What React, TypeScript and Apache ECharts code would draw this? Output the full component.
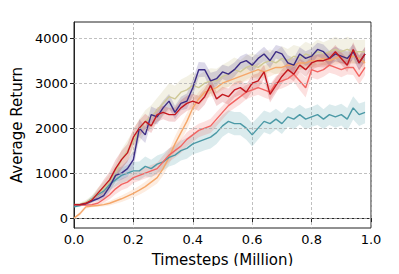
import React, { useEffect, useRef } from "react";
import * as echarts from "echarts";

const xs: number[] = Array.from({ length: 50 }, (_, i) => +(i * 0.02).toFixed(2));

const purple = [300, 300, 320, 380, 430, 500, 700, 950, 1000, 1100, 1300, 2000, 1850, 2300, 2250, 2450, 2600, 2350, 2550, 2600, 2900, 3300, 3300, 3050, 3100, 3250, 3200, 3300, 3450, 3500, 3400, 3550, 3650, 3500, 3700, 3650, 3450, 3400, 3650, 3550, 3600, 3750, 3700, 3550, 3650, 3600, 3550, 3700, 3450, 3650];
const khaki = [300, 310, 350, 420, 550, 650, 800, 1000, 1300, 1500, 1700, 1950, 2150, 2250, 2400, 2550, 2700, 2650, 2800, 2850, 2950, 2900, 3000, 3050, 3050, 3150, 3200, 3300, 3250, 3350, 3400, 3350, 3450, 3500, 3450, 3550, 3500, 3600, 3550, 3650, 3600, 3700, 3650, 3700, 3750, 3700, 3750, 3700, 3700, 3700];
const red = [300, 300, 330, 400, 550, 700, 850, 1100, 1300, 1450, 1800, 2000, 2150, 2050, 2300, 2350, 2300, 2300, 2450, 2550, 2600, 2550, 2700, 2950, 2650, 2750, 2700, 2850, 2900, 2800, 3000, 3050, 3250, 2750, 2950, 3150, 3300, 3200, 3400, 3300, 3450, 3500, 3500, 3550, 3700, 3550, 3400, 3750, 3450, 3650];
const salmon = [300, 290, 290, 300, 330, 420, 520, 650, 750, 800, 900, 950, 1000, 1050, 1100, 1250, 1400, 1500, 1600, 1750, 1850, 1950, 2000, 2050, 2200, 2350, 2500, 2600, 2700, 2800, 2850, 2900, 2850, 2800, 3000, 3050, 3100, 3200, 3050, 2900, 3300, 3250, 3300, 3400, 3350, 3300, 3350, 3350, 3150, 3350];
const orange = [0, 100, 250, 270, 280, 300, 330, 380, 430, 490, 550, 620, 700, 800, 900, 1100, 1350, 1650, 1900, 2150, 2450, 2650, 2800, 2850, 2900, 3000, 3050, 3100, 3150, 3200, 3250, 3300, 3250, 3300, 3350, 3350, 3400, 3400, 3450, 3450, 3500, 3500, 3550, 3500, 3550, 3600, 3550, 3600, 3550, 3450];
const teal = [250, 280, 330, 430, 520, 600, 750, 850, 950, 1000, 1050, 1050, 1150, 1100, 1200, 1250, 1350, 1400, 1500, 1550, 1650, 1700, 1750, 1800, 1900, 2050, 2150, 2100, 2100, 2000, 1850, 2000, 2150, 2100, 2200, 2100, 2250, 2200, 2300, 2200, 2250, 2300, 2200, 2300, 2250, 2300, 2200, 2450, 2300, 2350];

const purpleStd = [20, 20, 30, 40, 50, 80, 120, 150, 150, 180, 200, 200, 180, 180, 170, 160, 160, 150, 150, 170, 180, 170, 160, 180, 170, 160, 170, 160, 150, 160, 170, 150, 160, 170, 150, 160, 170, 160, 150, 160, 170, 150, 160, 170, 160, 150, 160, 170, 160, 150];
const khakiStd = [20, 30, 50, 80, 120, 150, 180, 200, 220, 230, 250, 260, 250, 260, 270, 280, 300, 290, 280, 300, 290, 280, 270, 280, 270, 260, 280, 270, 260, 270, 260, 270, 260, 250, 260, 270, 260, 250, 260, 270, 260, 270, 260, 270, 280, 270, 280, 270, 260, 270];
const redStd = [20, 20, 40, 60, 100, 150, 180, 200, 200, 200, 190, 180, 170, 160, 160, 150, 150, 160, 170, 170, 160, 170, 180, 170, 160, 170, 180, 170, 160, 170, 180, 170, 160, 180, 170, 160, 170, 160, 150, 160, 150, 140, 150, 160, 150, 140, 150, 160, 170, 160];
const salmonStd = [20, 20, 20, 30, 50, 80, 100, 120, 130, 130, 120, 120, 120, 130, 130, 140, 150, 150, 150, 160, 160, 150, 150, 160, 160, 150, 150, 160, 170, 160, 150, 160, 170, 170, 160, 170, 160, 170, 200, 220, 180, 170, 160, 170, 160, 170, 160, 170, 180, 170];
const orangeStd = [20, 40, 40, 30, 30, 40, 50, 60, 70, 80, 90, 100, 110, 120, 130, 150, 160, 170, 180, 180, 170, 160, 150, 150, 140, 150, 140, 150, 140, 150, 140, 150, 140, 150, 140, 150, 140, 150, 140, 150, 140, 150, 140, 150, 140, 150, 140, 150, 140, 150];
const tealStd = [20, 30, 40, 60, 80, 100, 130, 150, 170, 180, 200, 210, 220, 200, 190, 190, 200, 210, 220, 230, 230, 240, 240, 250, 250, 240, 250, 260, 260, 260, 260, 250, 240, 240, 230, 230, 220, 230, 220, 230, 220, 230, 220, 230, 240, 240, 250, 260, 250, 240];

const yTicks = [0, 1000, 2000, 3000, 4000];

const seriesDefs = [
  { name: "orange", color: "#f5a76a", band: "rgba(245,167,106,0.2)", mean: orange, std: orangeStd },
  { name: "teal", color: "#4b99a6", band: "rgba(75,153,166,0.2)", mean: teal, std: tealStd },
  { name: "khaki", color: "#cfc997", band: "rgba(207,201,151,0.25)", mean: khaki, std: khakiStd },
  { name: "salmon", color: "#f26461", band: "rgba(242,100,97,0.2)", mean: salmon, std: salmonStd },
  { name: "purple", color: "#3c2c85", band: "rgba(60,44,133,0.18)", mean: purple, std: purpleStd },
  { name: "red", color: "#c4171e", band: "rgba(196,23,30,0.18)", mean: red, std: redStd },
];

export default function App() {
  const ref = useRef<HTMLDivElement>(null);
  useEffect(() => {
    if (!ref.current) return;
    const chart = echarts.init(ref.current, undefined, { renderer: "svg" });
    const series: any[] = [];
    seriesDefs.forEach((s) => {
      const upper = xs.map((x, i) => [x, s.mean[i] + s.std[i]]);
      const lower = xs.map((x, i) => [x, s.mean[i] - s.std[i]]).reverse();
      const poly = upper.concat(lower);
      series.push({
        type: "custom",
        silent: true,
        z: 1,
        clip: true,
        data: poly,
        renderItem: (params: any, api: any) => {
          if (params.dataIndex !== 0) return null;
          return {
            type: "polygon",
            shape: { points: poly.map((p) => api.coord(p)) },
            style: { fill: s.band, stroke: "none" },
          };
        },
      });
    });
    seriesDefs.forEach((s) => {
      series.push({
        type: "line",
        name: s.name,
        data: xs.map((x, i) => [x, s.mean[i]]),
        symbol: "none",
        lineStyle: { color: s.color, width: 1.4 },
        z: 3,
      });
    });
    series.push({
      type: "line",
      data: [],
      silent: true,
      markLine: {
        silent: true,
        symbol: "none",
        label: { show: false },
        lineStyle: { color: "#b0b0b0", type: [3, 2], width: 0.8 },
        data: yTicks.map((v) => ({ yAxis: v })),
      },
      z: 0,
    });
    chart.setOption({
      animation: false,
      grid: {
        left: 74,
        right: 28,
        top: 22,
        bottom: 46,
        show: true,
        borderColor: "#222",
        borderWidth: 1,
        backgroundColor: "transparent",
      },
      xAxis: {
        type: "value",
        min: 0,
        max: 1,
        interval: 0.2,
        name: "Timesteps (Million)",
        nameLocation: "middle",
        nameGap: 24,
        nameTextStyle: { fontFamily: "DejaVu Sans", fontSize: 15, color: "#000" },
        axisLine: { show: true, lineStyle: { color: "#222", width: 1 } },
        axisTick: { show: true, length: 4, lineStyle: { color: "#222" } },
        axisLabel: {
          fontFamily: "DejaVu Sans",
          fontSize: 13,
          color: "#000",
          margin: 5,
          formatter: (v: number) => v.toFixed(1),
        },
        splitLine: { show: true, lineStyle: { color: "#b0b0b0", type: [3, 2], width: 0.8 } },
      },
      yAxis: {
        type: "value",
        min: -220,
        max: 4360,
        name: "Average Return",
        nameLocation: "middle",
        nameGap: 42,
        nameTextStyle: { fontFamily: "DejaVu Sans", fontSize: 15, color: "#000" },
        axisLine: { show: true, lineStyle: { color: "#222", width: 1 } },
        axisTick: { show: true, length: 4, customValues: yTicks, lineStyle: { color: "#222" } },
        axisLabel: {
          fontFamily: "DejaVu Sans",
          fontSize: 13,
          color: "#000",
          margin: 6,
          customValues: yTicks,
          formatter: (v: number) => String(v),
        },
        splitLine: { show: false },
      },
      series,
    });
    return () => chart.dispose();
  }, []);
  return <div ref={ref} style={{ width: 399, height: 274, margin: -8 }} />;
}
